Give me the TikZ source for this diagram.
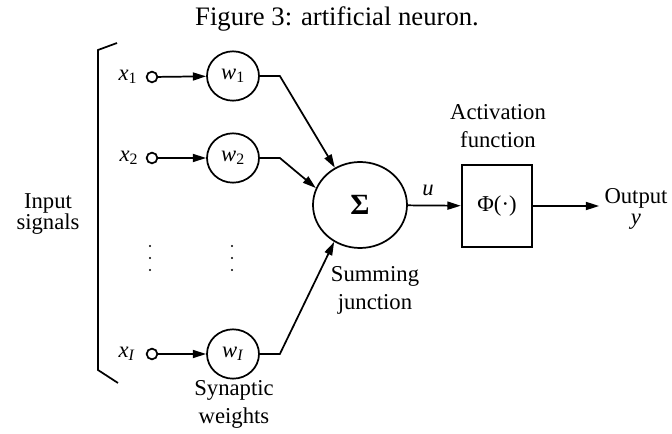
\documentclass[tikz,border=0pt]{standalone}
\usepackage{fontspec}
\setmainfont{Liberation Serif}
\usetikzlibrary{arrows.meta, positioning, shapes.geometric}

\begin{document}
\begin{tikzpicture}[x=0.75pt, y=-0.75pt, line width=1.3pt,
    every node/.style={font=\fontsize{17}{21}\selectfont},
    weight/.style={draw, ellipse, inner sep=0pt, minimum width=39pt, minimum height=37pt},
    inport/.style={draw, circle, inner sep=0pt, minimum size=8pt},
    arr/.style={-{Triangle[length=10pt, width=6pt]}}]
  \useasboundingbox (0,0) rectangle (672,434);
  \node (title) at (337,19) {\fontsize{20}{24}\selectfont Figure 3: artificial neuron.};

  \draw (117,43) -- (98,50) -- (98,370) -- (118,383);
  \node[align=center] (insig) at (48,214) {Input\\[-5pt]signals};

  \node (x1) at (128,77) {\textit{x}\textsubscript{1}};
  \node[inport] (p1) at (152,77) {};
  \node[weight] (w1) at (233,76) {\textit{w}\textsubscript{1}};
  \node (x2) at (129,158) {\textit{x}\textsubscript{2}};
  \node[inport] (p2) at (152,158) {};
  \node[weight] (w2) at (233,158) {\textit{w}\textsubscript{2}};
  \node (xI) at (127,354) {\textit{x}\textsubscript{\textit{I}}};
  \node[inport] (pI) at (152,354) {};
  \node[weight] (wI) at (233,354) {\textit{w}\textsubscript{\textit{I}}};
  \foreach \yy in {246,258,270} {
    \fill (150,\yy) circle (0.9pt);
    \fill (232,\yy) circle (0.9pt);
  }
  \node[align=center] (syn) at (234,404) {Synaptic\\weights};

  \node[draw, ellipse, inner sep=0pt, minimum width=70.5pt, minimum height=64.5pt] (sum) at (360,205) {\fontsize{22}{26}\selectfont\textbf{Σ}};
  \node[align=center] (sumlab) at (375,290) {Summing\\junction};

  \node[draw, minimum width=53pt, minimum height=62pt] (phi) at (497,206) {Φ(·)};
  \node[align=center] (actlab) at (498,126) {Activation\\function};
  \node (u) at (428,190) {\textit{u}};
  \node[align=center] (out) at (636,209) {Output\\[-5pt]\textit{y}};

  \draw[arr] (p1) -- (w1);
  \draw[arr] (p2) -- (w2);
  \draw[arr] (pI) -- (wI);
  \draw[arr] (w1.east) -- ++(20,0) -- (sum.124);
  \draw[arr] (w2.east) -- ++(20,0) -- (sum.159);
  \draw[arr] (wI.east) -- ++(20,0) -- (sum.235);
  \draw[arr] (sum) -- (phi);
  \draw[arr] (phi.east) -- (out.west |- phi.east);
\end{tikzpicture}
\end{document}
